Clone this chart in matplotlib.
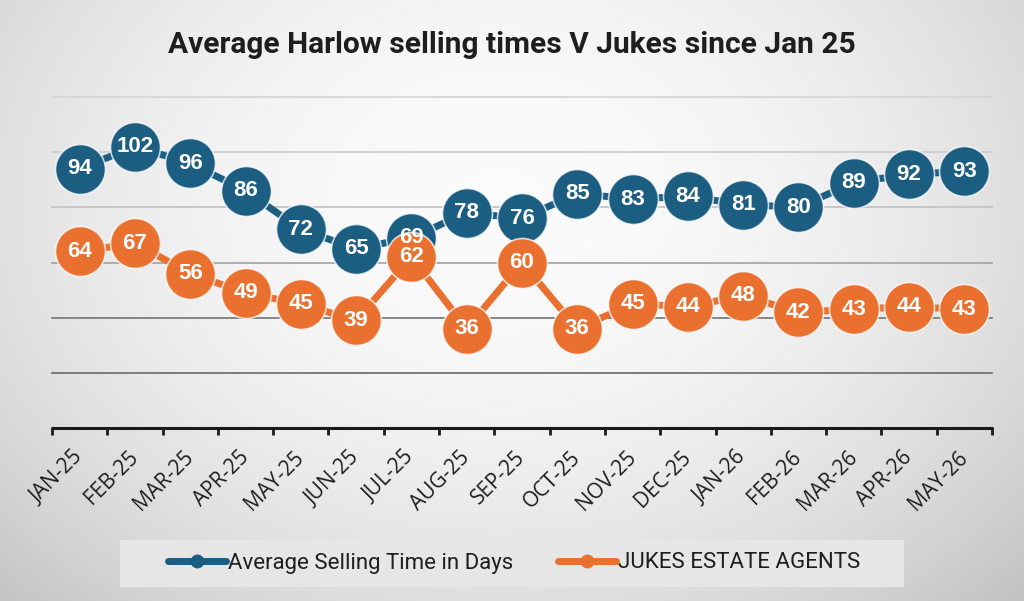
import numpy as np
import matplotlib
matplotlib.use("Agg")
import matplotlib.pyplot as plt
from matplotlib import font_manager
from matplotlib.lines import Line2D
from matplotlib.patches import Rectangle

# ---- data ----
months = ["JAN-25", "FEB-25", "MAR-25", "APR-25", "MAY-25", "JUN-25", "JUL-25",
          "AUG-25", "SEP-25", "OCT-25", "NOV-25", "DEC-25", "JAN-26", "FEB-26",
          "MAR-26", "APR-26", "MAY-26"]
harlow = [94, 102, 96, 86, 72, 65, 69, 78, 76, 85, 83, 84, 81, 80, 89, 92, 93]
jukes = [64, 67, 56, 49, 45, 39, 62, 36, 60, 36, 45, 44, 48, 42, 43, 44, 43]
series_names = ["Average Selling Time in Days", "JUKES ESTATE AGENTS"]
grid_levels = [20, 40, 60, 80, 100, 120]
title = "Average Harlow selling times V Jukes since Jan 25"

BLUE = "#1b5e82"
ORANGE = "#ea7030"

names = {f.name for f in font_manager.fontManager.ttflist}
if "Liberation Sans Narrow" in names:
    title_font, title_size = "Liberation Sans Narrow", 22
else:
    title_font, title_size = "Roboto", 21.5

W, H = 1024, 601
fig = plt.figure(figsize=(W / 100, H / 100), dpi=100)

# background gradient
bg = fig.add_axes([0, 0, 1, 1], zorder=-10)
X, Y = np.meshgrid(np.arange(W), np.arange(H))
d2 = ((X - 500) / 620.0) ** 2 + ((Y - 200) / 480.0) ** 2
val = np.clip(0.985 - 0.16 * d2, 0, 1)
bg.imshow(np.dstack([val, val, val]), aspect="auto", extent=(0, W, H, 0))
bg.set_axis_off()

ax = fig.add_axes([52 / W, 1 - 428 / H, 940 / W, 331 / H])
ax.patch.set_alpha(0)
n = len(months)
x = np.arange(n)
ax.set_xlim(-0.5, n - 0.5)
ax.set_ylim(0, 120)

grid_colors = ["#737373", "#7d7d7d", "#a8a8a8", "#c4c4c4", "#cdcdcd", "#d6d6d6"]
for lv, c in zip(grid_levels, grid_colors):
    ax.axhline(lv, color=c, lw=1.3, zorder=1, clip_on=False)

for s in ["top", "right", "left"]:
    ax.spines[s].set_visible(False)
ax.spines["bottom"].set_linewidth(2.2)
ax.spines["bottom"].set_color("#1a1a1a")
ax.spines["bottom"].set_capstyle("round")
ax.set_yticks([])

ax.set_xticks(np.arange(-0.5, n, 1.0))
ax.set_xticklabels([])
ax.tick_params(axis="x", which="major", length=5, width=2, color="#1a1a1a", direction="out")
ax.set_xticks(x, minor=True)
ax.set_xticklabels(months, minor=True, rotation=45, ha="right", va="center",
                   rotation_mode="anchor", fontsize=15, fontfamily="Open Sans",
                   color="#1e1e1e")
ax.tick_params(axis="x", which="minor", length=0, pad=19)

ms = 36
for vals, col in [(harlow, BLUE), (jukes, ORANGE)]:
    ax.plot(x, vals, color=col, lw=5, marker="o", ms=ms, mfc=col,
            mec=(1, 1, 1, 0.75), mew=1.2, zorder=3, solid_capstyle="round")

for vals in [harlow, jukes]:
    for xi, v in zip(x, vals):
        ax.text(xi, v, str(v), ha="center", va="center", color="white",
                fontsize=16, fontweight="bold", fontfamily="Liberation Sans",
                zorder=5)

fig.text(512 / W, 1 - 45 / H, title, ha="center", va="center",
         fontsize=title_size, fontweight="bold", fontfamily=title_font, color="#1e1e1e")

# legend
fig.patches.append(Rectangle((120 / W, 1 - 587 / H), 784 / W, 47 / H,
                             transform=fig.transFigure, facecolor="#e6e6e6",
                             edgecolor="none", zorder=0))
handles = [Line2D([], [], color=BLUE, lw=5, marker="o", ms=9, solid_capstyle="round"),
           Line2D([], [], color=ORANGE, lw=5, marker="o", ms=9, solid_capstyle="round")]
leg = fig.legend(handles, series_names, loc="center", ncol=2,
                 bbox_to_anchor=(514 / W, 1 - 563 / H), frameon=False,
                 prop={"family": "Roboto", "size": 16}, handlelength=2.6,
                 handletextpad=0.1, columnspacing=2.0, labelcolor="#1e1e1e")

fig.savefig("out.png", dpi=100)
